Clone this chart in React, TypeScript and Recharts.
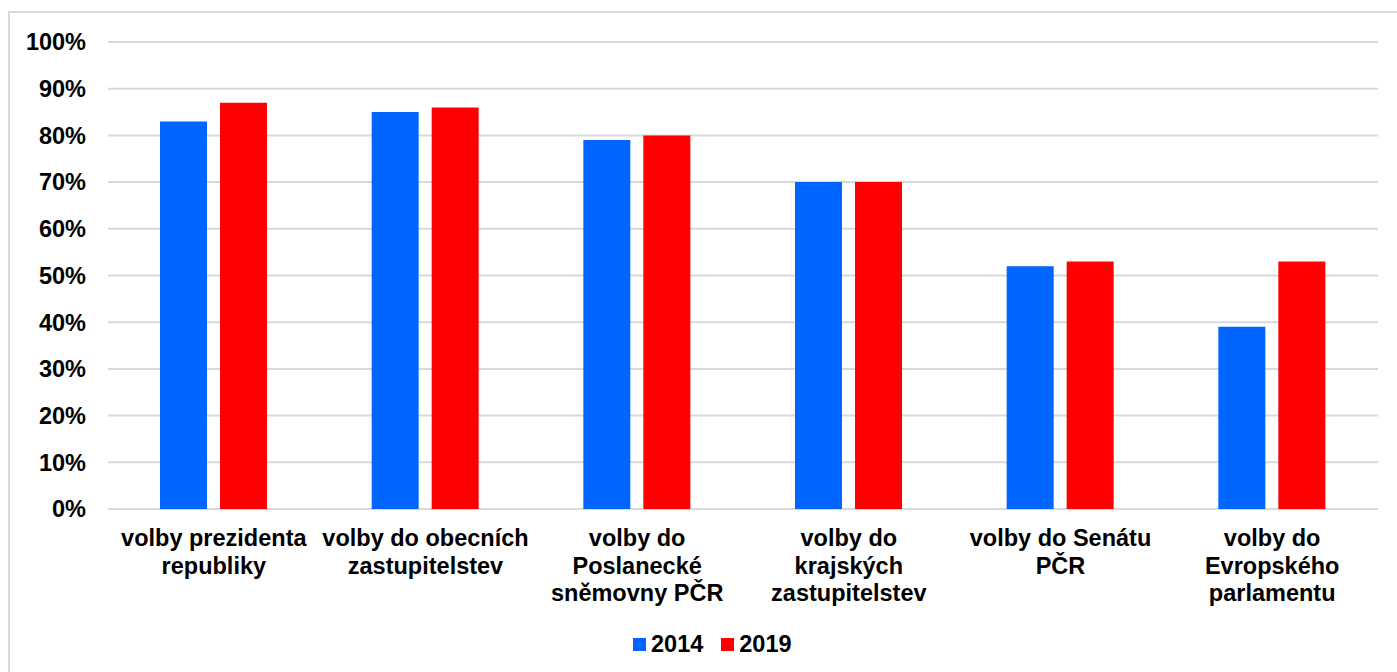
import React from "react";
import { BarChart, Bar, XAxis, YAxis, CartesianGrid, Legend } from "recharts";

const categories = [
  "volby prezidenta republiky",
  "volby do obecních zastupitelstev",
  "volby do Poslanecké sněmovny PČR",
  "volby do krajských zastupitelstev",
  "volby do Senátu PČR",
  "volby do Evropského parlamentu",
];
const categoryLines = [
  ["volby prezidenta", "republiky"],
  ["volby do obecních", "zastupitelstev"],
  ["volby do", "Poslanecké", "sněmovny PČR"],
  ["volby do", "krajských", "zastupitelstev"],
  ["volby do Senátu", "PČR"],
  ["volby do", "Evropského", "parlamentu"],
];
const values2014 = [83, 85, 79, 70, 52, 39];
const values2019 = [87, 86, 80, 70, 53, 53];
const yTicks = [0, 10, 20, 30, 40, 50, 60, 70, 80, 90, 100];
const seriesNames = ["2014", "2019"];
const colors = ["#0066FF", "#FF0000"];

const data = categories.map((c, i) => ({
  name: c,
  s2014: values2014[i],
  s2019: values2019[i],
}));

const FONT = "'Liberation Sans', Arial, sans-serif";
const FS = 23.5;

const CatTick = (props: any) => {
  const { x, y, index } = props;
  const lines = categoryLines[index] || [];
  return (
    <g>
      {lines.map((l, i) => (
        <text
          key={i}
          x={x}
          y={y + 37 + i * 27.5}
          textAnchor="middle"
          fontFamily={FONT}
          fontWeight="bold"
          fontSize={FS}
          fill="#000"
        >
          {l}
        </text>
      ))}
    </g>
  );
};

const LegendContent = () => (
  <div
    style={{
      display: "flex",
      alignItems: "center",
      marginLeft: 623,
      fontFamily: FONT,
      fontWeight: "bold",
      fontSize: FS,
      color: "#000",
      lineHeight: "26px",
    }}
  >
    {seriesNames.map((n, i) => (
      <div key={n} style={{ display: "flex", alignItems: "center", marginRight: 18 }}>
        <div style={{ width: 13, height: 13, background: colors[i], marginRight: 5 }} />
        <span>{n}</span>
      </div>
    ))}
  </div>
);

export default function App() {
  return (
    <div
      style={{
        position: "absolute",
        left: 8,
        top: 11,
        width: 1389,
        height: 661,
        borderTop: "2px solid #d9d9d9",
        borderLeft: "2px solid #d9d9d9",
        boxSizing: "border-box",
        background: "#fff",
      }}
    >
      <BarChart
        width={1387}
        height={659}
        data={data}
        margin={{ top: 29, right: 19, bottom: 17, left: 0 }}
        barSize={47}
        barGap={13}
      >
        <CartesianGrid vertical={false} stroke="#d9d9d9" strokeWidth={2} />
        <XAxis
          dataKey="name"
          axisLine={false}
          tickLine={false}
          tickSize={0}
          tickMargin={0}
          height={120}
          interval={0}
          tick={<CatTick />}
        />
        <YAxis
          domain={[0, 100]}
          ticks={yTicks}
          width={98}
          axisLine={false}
          tickLine={false}
          tickSize={0}
          tickMargin={22}
          interval={0}
          tickFormatter={(v: number) => `${v}%`}
          tick={{ fontFamily: FONT, fontWeight: "bold", fontSize: FS, fill: "#000" }}
        />
        <Legend
          content={<LegendContent />}
          wrapperStyle={{ position: "absolute", left: 0, top: 618, width: 1387 }}
        />
        <Bar dataKey="s2014" name={seriesNames[0]} fill={colors[0]} isAnimationActive={false} />
        <Bar dataKey="s2019" name={seriesNames[1]} fill={colors[1]} isAnimationActive={false} />
      </BarChart>
    </div>
  );
}
